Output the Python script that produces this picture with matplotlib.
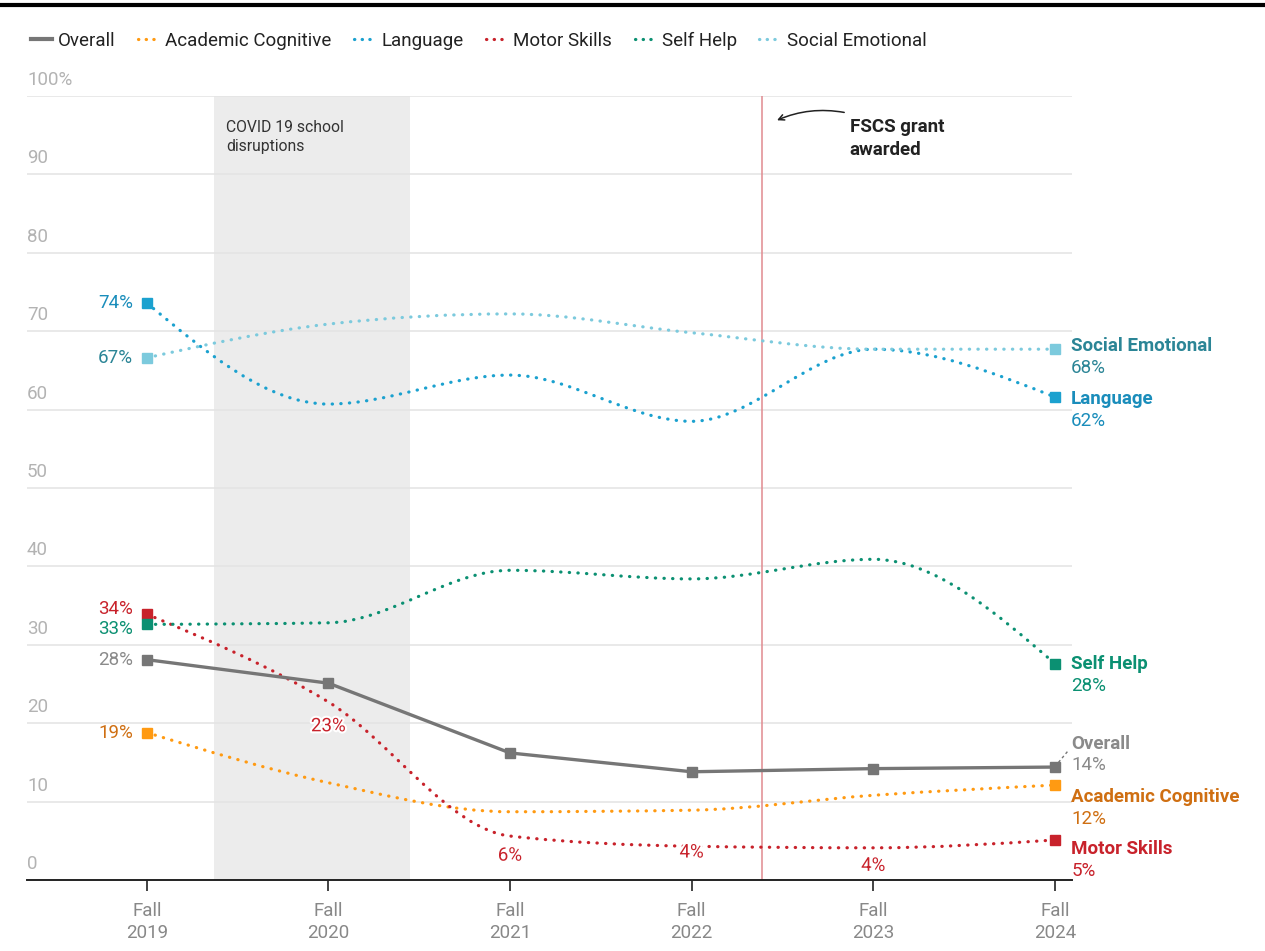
import numpy as np
import matplotlib
matplotlib.use("Agg")
import matplotlib.pyplot as plt
import matplotlib.patheffects as pe
from matplotlib.path import Path
from matplotlib.patches import PathPatch
from matplotlib.lines import Line2D

plt.rcParams['font.family'] = ['Roboto', 'DejaVu Sans']
FS = 13.5

years = [2019, 2020, 2021, 2022, 2023, 2024]
tick_labels = ["Fall\n2019", "Fall\n2020", "Fall\n2021", "Fall\n2022", "Fall\n2023", "Fall\n2024"]

overall = [28.1, 25.1, 16.2, 13.8, 14.2, 14.4]
academic = [18.8, 12.4, 8.7, 8.9, 10.8, 12.1]
language = [73.6, 60.7, 64.4, 58.5, 67.7, 61.6]
motor = [33.9, 22.7, 5.6, 4.3, 4.1, 5.1]
self_help = [32.6, 32.8, 39.5, 38.4, 40.9, 27.6]
social = [66.6, 70.9, 72.2, 69.8, 67.7, 67.7]

covid_span = (2019.37, 2020.45)
grant_year = 2022.39

series = [
    # name, values, line colour, label colour, solid?
    ("Overall", overall, "#767676", "#8a8a8a", True),
    ("Academic Cognitive", academic, "#ff9a12", "#cf6f12", False),
    ("Language", language, "#1ba1cf", "#1a8dbb", False),
    ("Motor Skills", motor, "#c8222b", "#c8222b", False),
    ("Self Help", self_help, "#0b9072", "#0b9072", False),
    ("Social Emotional", social, "#7ccadd", "#2b8596", False),
]

# where the end labels sit (name line, value line), in data units
end_label_y = {
    "Social Emotional": (68.1, 65.3),
    "Language": (61.4, 58.5),
    "Self Help": (27.6, 24.8),
    "Overall": (17.4, 14.6),
    "Academic Cognitive": (10.6, 7.8),
    "Motor Skills": (3.9, 1.1),
}
# start label offsets (data units) so the left labels don't collide
start_label_y = {"Overall": 0, "Academic Cognitive": 0, "Language": 0,
                 "Motor Skills": 0.6, "Self Help": -0.6, "Social Emotional": 0}
# mid-series value labels: (series, index, y position)
mid_labels = [("Motor Skills", 1, 19.6), ("Motor Skills", 2, 3.1),
              ("Motor Skills", 3, 3.5), ("Motor Skills", 4, 1.8)]


def monotone_path(xs, ys):
    """Cubic bezier path through the points, monotone in x (like d3.curveMonotoneX)."""
    xs = np.asarray(xs, float)
    ys = np.asarray(ys, float)
    n = len(xs)
    h = np.diff(xs)
    s = np.diff(ys) / h
    t = np.zeros(n)
    for i in range(1, n - 1):
        if s[i - 1] * s[i] <= 0:
            t[i] = 0
        else:
            p = (s[i - 1] * h[i] + s[i] * h[i - 1]) / (h[i - 1] + h[i])
            t[i] = (np.sign(s[i - 1]) + np.sign(s[i])) * min(abs(s[i - 1]), abs(s[i]), 0.5 * abs(p))
    t[0] = (3 * s[0] - t[1]) / 2 if n > 2 else s[0]
    t[-1] = (3 * s[-1] - t[-2]) / 2 if n > 2 else s[-1]
    verts = [(xs[0], ys[0])]
    codes = [Path.MOVETO]
    for i in range(n - 1):
        dx = h[i] / 3
        verts += [(xs[i] + dx, ys[i] + dx * t[i]),
                  (xs[i + 1] - dx, ys[i + 1] - dx * t[i + 1]),
                  (xs[i + 1], ys[i + 1])]
        codes += [Path.CURVE4] * 3
    return Path(verts, codes)


fig = plt.figure(figsize=(12.65, 9.51), dpi=100)
ax = fig.add_axes([0.0213, 0.0747, 0.8261, 0.8244])
ax.set_xlim(2018.34, 2024.094)
ax.set_ylim(0, 100)

ax.axvspan(*covid_span, color="#ececec", zorder=0, lw=0)
ax.text(covid_span[0] + 0.065, 94.8, "COVID 19 school\ndisruptions", fontsize=11.3,
        color="#333333", va="center", ha="left", linespacing=1.3)

for yv in range(10, 101, 10):
    ax.axhline(yv, color="#e3e3e3", lw=1.1, zorder=0.5)
for yv in range(0, 101, 10):
    ax.text(2018.34, yv + 0.9, f"{yv}%" if yv == 100 else str(yv), fontsize=FS,
            color="#b3b3b3", ha="left", va="bottom")

ax.axvline(grant_year, color="#e08a90", lw=1.1, zorder=1)
ax.annotate("", xy=(2022.47, 96.9), xytext=(2022.84, 97.9),
            arrowprops=dict(arrowstyle="->", color="#222222", lw=1.1,
                            connectionstyle="arc3,rad=0.15", shrinkA=0, shrinkB=0))
ax.text(2022.87, 94.6, "FSCS grant\nawarded", fontsize=FS, fontweight="bold",
        color="#222222", ha="left", va="center", linespacing=1.35)

handles = []
for name, vals, col, lcol, solid in series:
    if solid:
        ax.plot(years, vals, color=col, lw=2.4, marker="s", ms=6.5, zorder=4,
                solid_capstyle="round")
        h = Line2D([], [], color=col, lw=3)
    else:
        patch = PathPatch(monotone_path(years, vals), fill=False, edgecolor=col, lw=2.3,
                          linestyle=(0, (0.1, 2.6)), capstyle="round", zorder=3)
        ax.add_patch(patch)
        ax.plot([years[0], years[-1]], [vals[0], vals[-1]], ls="none", marker="s",
                ms=6.5, color=col, zorder=4)
        h = Line2D([], [], color=col, lw=2.3, linestyle=(0, (0.1, 2.3)),
                   dash_capstyle="round")
    handles.append(h)

    # start value
    ax.text(years[0] - 0.075, vals[0] + start_label_y[name], f"{vals[0]:.0f}%", fontsize=FS,
            color=lcol, ha="right", va="center")
    # end name + value
    ny, vy = end_label_y[name]
    ax.text(2024.09, ny, name, fontsize=FS, fontweight="bold", color=lcol,
            ha="left", va="center", clip_on=False)
    ax.text(2024.09, vy, f"{vals[-1]:.0f}%", fontsize=FS, color=lcol,
            ha="left", va="center", clip_on=False)
    if abs(ny - vals[-1]) > 1.5:
        d = np.sign(ny - vals[-1])
        ax.plot([years[-1] + 0.02, 2024.07], [vals[-1] + d * 0.6, ny - d * 1.0],
                color=col, lw=1, ls=(0, (2, 2)), clip_on=False, zorder=4)

lookup = {s[0]: s for s in series}
for name, idx, yv in mid_labels:
    _, vals, col, lcol, _ = lookup[name]
    ax.text(years[idx], yv, f"{vals[idx]:.0f}%", fontsize=FS, color=lcol, ha="center",
            va="center", zorder=5,
            path_effects=[pe.withStroke(linewidth=3, foreground="white")])

for side in ["top", "right", "left"]:
    ax.spines[side].set_visible(False)
ax.spines["bottom"].set_color("#222222")
ax.spines["bottom"].set_linewidth(1.4)
ax.set_yticks([])
ax.set_xticks(years)
ax.set_xticklabels(tick_labels, fontsize=FS, color="#888888", linespacing=1.3)
ax.tick_params(axis="x", length=8, width=1.2, color="#222222", pad=8)

fig.legend(handles, [s[0] for s in series], loc="center left", bbox_to_anchor=(0.011, 0.957),
           ncol=6, frameon=False, fontsize=FS, handlelength=1.15, handletextpad=0.3,
           columnspacing=1.2, labelcolor="#222222")
fig.add_artist(Line2D([0, 1], [0.9947, 0.9947], color="black", lw=3, transform=fig.transFigure))

fig.savefig("out.png", dpi=100)
